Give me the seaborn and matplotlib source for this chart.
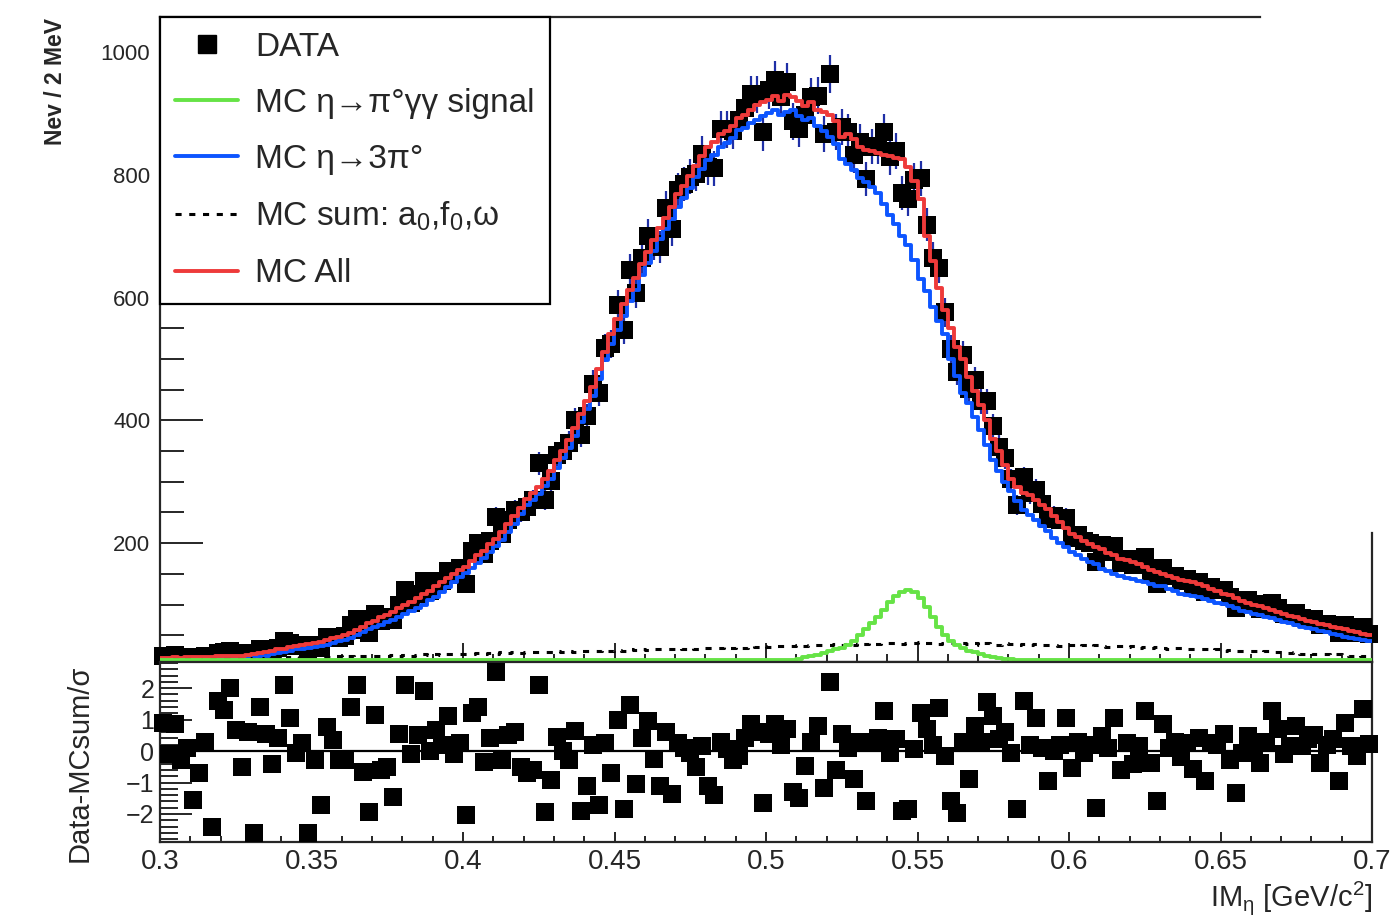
import numpy as np
import pandas as pd
import matplotlib
matplotlib.use("Agg")
import matplotlib.pyplot as plt
from matplotlib.lines import Line2D
from matplotlib.ticker import MultipleLocator, FuncFormatter
import seaborn as sns

# 200 bins of 2 MeV between 0.3 and 0.7 GeV/c^2
x_lo, x_hi, n_bins = 0.3, 0.7, 200
bin_w = (x_hi - x_lo) / n_bins
centers = x_lo + bin_w * (np.arange(n_bins) + 0.5)

# DATA counts per bin
data_counts = np.array([
    17, 14, 18, 13, 15, 11, 13, 16, 10, 21,
    22, 24, 20, 14, 21, 11, 27, 26, 22, 29,
    40, 37, 33, 35, 21, 35, 29, 47, 47, 46,
    49, 66, 76, 58, 54, 84, 74, 79, 75, 99,
    123, 103, 117, 138, 122, 137, 139, 155, 149, 159,
    133, 188, 200, 183, 204, 243, 215, 238, 254, 251,
    259, 270, 330, 270, 301, 344, 350, 363, 400, 376,
    407, 460, 444, 518, 524, 588, 548, 645, 608, 664,
    701, 687, 683, 746, 711, 775, 785, 797, 802, 834,
    812, 811, 875, 874, 871, 889, 909, 931, 931, 869,
    938, 954, 926, 951, 887, 875, 898, 927, 929, 867,
    964, 870, 878, 869, 832, 854, 793, 846, 847, 870,
    829, 839, 771, 760, 791, 794, 719, 665, 649, 576,
    516, 479, 507, 451, 465, 431, 431, 391, 357, 339,
    304, 262, 307, 281, 287, 264, 240, 245, 238, 241,
    208, 214, 203, 201, 169, 197, 185, 195, 167, 175,
    165, 168, 177, 152, 134, 160, 147, 147, 138, 141,
    131, 137, 120, 129, 124, 124, 112, 95, 105, 108,
    101, 93, 97, 103, 95, 84, 84, 87, 78, 77,
    76, 66, 69, 67, 54, 67, 58, 54, 63, 52,
])

# MC eta -> 3pi0
mc_3pi0 = np.array([
    10, 10, 11, 10, 11, 12, 11, 12, 12, 13,
    12, 13, 13, 14, 13, 15, 16, 17, 19, 21,
    23, 25, 27, 28, 30, 31, 33, 35, 37, 40,
    43, 46, 50, 55, 60, 64, 67, 71, 75, 80,
    85, 89, 95, 100, 107, 113, 121, 129, 137, 145,
    151, 160, 168, 176, 186, 195, 206, 218, 232, 247,
    262, 270, 280, 293, 305, 322, 338, 355, 375, 398,
    418, 440, 468, 498, 525, 548, 570, 594, 612, 636,
    657, 676, 695, 712, 728, 748, 762, 778, 796, 810,
    824, 833, 845, 852, 860, 873, 876, 885, 890, 896,
    900, 905, 898, 903, 906, 896, 890, 892, 880, 872,
    862, 850, 826, 818, 808, 795, 788, 780, 770, 752,
    735, 720, 700, 685, 662, 630, 610, 585, 562, 540,
    500, 472, 445, 428, 405, 385, 360, 335, 318, 300,
    285, 268, 254, 246, 238, 228, 220, 208, 200, 193,
    186, 180, 175, 170, 166, 158, 155, 150, 146, 143,
    141, 139, 137, 134, 131, 130, 126, 122, 118, 116,
    114, 112, 109, 106, 103, 101, 97, 94, 90, 88,
    85, 83, 80, 78, 75, 72, 70, 67, 64, 62,
    60, 57, 55, 52, 50, 48, 46, 44, 42, 40,
])

# MC All
mc_all = np.array([
    13, 13, 14, 13, 14, 14, 15, 14, 15, 16,
    16, 16, 17, 16, 18, 19, 21, 23, 24, 27,
    28, 31, 33, 34, 36, 37, 39, 42, 45, 48,
    51, 54, 58, 64, 70, 74, 79, 83, 88, 94,
    100, 104, 111, 117, 122, 130, 137, 143, 150, 156,
    162, 171, 180, 188, 198, 207, 219, 231, 245, 258,
    272, 281, 292, 305, 318, 336, 350, 368, 388, 410,
    432, 455, 483, 512, 540, 565, 590, 612, 632, 655,
    675, 694, 713, 730, 748, 768, 782, 798, 815, 830,
    845, 853, 866, 872, 880, 893, 897, 905, 913, 918,
    922, 928, 920, 930, 926, 920, 912, 918, 905, 902,
    898, 888, 862, 866, 858, 845, 840, 838, 835, 833,
    830, 828, 826, 812, 790, 760, 700, 660, 615, 580,
    550, 520, 500, 470, 448, 425, 400, 370, 350, 328,
    305, 292, 282, 278, 270, 262, 255, 245, 235, 224,
    215, 210, 204, 198, 194, 190, 184, 180, 175, 172,
    170, 166, 162, 156, 153, 150, 146, 143, 140, 138,
    137, 133, 130, 126, 122, 118, 115, 110, 106, 103,
    100, 97, 94, 91, 88, 85, 82, 79, 76, 74,
    72, 69, 67, 64, 62, 60, 57, 55, 52, 50,
])

# MC eta -> pi0 gamma gamma signal
mc_signal = np.array([
    0, 0, 0, 0, 0, 0, 0, 0, 0, 0,
    0, 0, 0, 0, 0, 0, 0, 0, 0, 0,
    0, 0, 0, 0, 0, 0, 0, 0, 0, 0,
    0, 0, 0, 0, 0, 0, 0, 0, 0, 0,
    0, 0, 0, 0, 0, 0, 0, 0, 0, 0,
    0, 0, 0, 0, 0, 0, 0, 0, 0, 0,
    0, 0, 0, 0, 0, 0, 0, 0, 0, 0,
    0, 0, 0, 0, 0, 0, 0, 0, 0, 0,
    0, 0, 0, 0, 0, 0, 0, 0, 1, 1,
    1, 1, 1, 1, 1, 1, 2, 2, 3, 4,
    5, 6, 7, 9, 10, 12, 14, 16, 18, 21,
    24, 27, 30, 35, 41, 50, 60, 70, 80, 91,
    104, 114, 120, 123, 120, 110, 96, 80, 64, 50,
    40, 34, 29, 25, 22, 19, 17, 15, 13, 12,
    11, 10, 9, 8, 7, 6, 5, 4, 3, 3,
    2, 2, 1, 1, 1, 0, 0, 0, 0, 0,
    0, 0, 0, 0, 0, 0, 0, 0, 0, 0,
    0, 0, 0, 0, 0, 0, 0, 0, 0, 0,
    0, 0, 0, 0, 0, 0, 0, 0, 0, 0,
    0, 0, 0, 0, 0, 0, 0, 0, 0, 0,
])

# MC sum of a0, f0, omega backgrounds
mc_bkg = np.array([
    10, 10, 11, 10, 11, 11, 10, 12, 11, 12,
    11, 12, 12, 11, 13, 12, 13, 12, 13, 14,
    13, 14, 13, 14, 15, 14, 15, 14, 15, 16,
    15, 16, 15, 16, 17, 16, 17, 16, 18, 17,
    18, 17, 18, 19, 18, 19, 18, 20, 19, 20,
    19, 20, 21, 20, 21, 20, 22, 21, 22, 21,
    22, 23, 22, 23, 22, 24, 23, 24, 23, 25,
    24, 25, 24, 26, 25, 26, 25, 27, 26, 27,
    26, 28, 27, 28, 27, 29, 28, 29, 28, 30,
    29, 30, 29, 31, 30, 31, 30, 32, 31, 32,
    31, 33, 32, 33, 32, 34, 33, 35, 34, 35,
    34, 36, 35, 36, 35, 37, 36, 37, 36, 38,
    37, 38, 36, 38, 37, 39, 37, 38, 36, 38,
    37, 36, 38, 36, 37, 35, 37, 36, 35, 37,
    36, 35, 36, 34, 36, 35, 34, 35, 33, 35,
    34, 33, 34, 32, 34, 33, 31, 33, 32, 31,
    32, 30, 31, 29, 31, 30, 28, 30, 29, 27,
    28, 27, 28, 26, 27, 25, 26, 25, 24, 25,
    24, 23, 24, 22, 23, 22, 21, 22, 20, 21,
    20, 19, 20, 18, 19, 18, 17, 18, 17, 16,
])

# (Data - MCsum) / sigma
residual = np.array([
    0.9, -0.1, 0.85, -0.3, 0.1, -1.56, -0.7, 0.3, -2.4, 1.6,
    1.3, 2.0, 0.67, -0.5, 0.6, -2.6, 1.4, 0.55, -0.4, 0.4,
    2.1, 1.05, -0.07, 0.25, -2.6, -0.3, -1.7, 0.76, 0.35, -0.3,
    -0.3, 1.4, 2.1, -0.66, -1.93, 1.14, -0.6, -0.5, -1.46, 0.53,
    2.1, -0.1, 0.5, 1.9, 0.0, 0.67, 0.2, 1.1, -0.1, 0.25,
    -2.03, 1.2, 1.4, -0.35, 0.4, 2.5, -0.3, 0.5, 0.6, -0.5,
    -0.7, -0.6, 2.1, -1.95, -0.92, 0.45, 0.0, -0.3, 0.65, -1.9,
    -1.1, 0.2, -1.7, 0.26, -0.7, 1.0, -1.85, 1.45, -1.06, 0.4,
    0.95, -0.26, -1.1, 0.6, -1.37, 0.26, 0.1, -0.05, -0.5, 0.15,
    -1.1, -1.4, 0.3, 0.05, -0.3, -0.15, 0.4, 0.85, 0.6, -1.64,
    0.53, 0.85, 0.2, 0.7, -1.3, -1.5, -0.48, 0.3, 0.8, -1.17,
    2.2, -0.6, 0.53, 0.1, -0.9, 0.3, -1.6, 0.26, 0.4, 1.27,
    -0.05, 0.37, -1.9, -1.85, 0.05, 1.22, 0.7, 0.2, 1.38, -0.16,
    -1.6, -1.96, 0.3, -0.9, 0.8, 0.3, 1.55, 1.1, 0.37, 0.6,
    -0.05, -1.85, 1.6, 0.2, 1.06, 0.1, -0.95, 0.0, 0.2, 1.06,
    -0.53, 0.3, -0.05, 0.2, -1.8, 0.48, 0.1, 1.06, -0.6, 0.25,
    -0.4, 0.16, 1.27, -0.37, -1.6, 0.85, 0.1, 0.3, -0.2, 0.26,
    -0.58, 0.4, -0.95, 0.26, 0.2, 0.53, -0.3, -1.33, -0.05, 0.48,
    0.1, -0.37, 0.3, 1.27, 0.69, -0.1, 0.16, 0.8, 0.16, 0.37,
    0.5, -0.37, 0.2, 0.37, -0.95, 0.9, 0.16, -0.16, 1.33, 0.21,
])

GREEN = "#66e346"
BLUE = "#0d55ff"
RED = "#ee3a3a"
ERR = "#1f2fa6"

y_lo, y_hi = 6.5, 1057

hists = pd.DataFrame({
    "m": centers,
    "mc_3pi0": mc_3pi0,
    "mc_all": mc_all,
    "mc_bkg": mc_bkg,
    # values under the frame minimum sit on the frame bottom, as in ROOT
    "mc_signal": np.maximum(mc_signal, 9),
})

sns.set_style("ticks")
plt.rcParams["font.family"] = ["Liberation Sans", "DejaVu Sans"]
plt.rcParams["mathtext.fontset"] = "custom"
plt.rcParams["mathtext.rm"] = "Liberation Sans"
plt.rcParams["mathtext.it"] = "Liberation Sans:italic"
plt.rcParams["mathtext.default"] = "regular"

W, H = 1398, 919
fig = plt.figure(figsize=(W / 100, H / 100), dpi=100)
ax = fig.add_axes([160 / W, 1 - 662 / H, 1212 / W, 645 / H])
axr = fig.add_axes([160 / W, 1 - 842 / H, 1212 / W, 180 / H], sharex=ax)

# upper panel: data with errors, then MC histograms on top
ax.errorbar(centers, data_counts, yerr=np.sqrt(data_counts), fmt="none",
            ecolor=ERR, elinewidth=1.6, zorder=2.5)
sns.scatterplot(x=centers, y=data_counts, marker="s", s=13.5 ** 2, color="black",
                linewidth=0, ax=ax, zorder=3, clip_on=False)

hist_kw = dict(data=hists, x="m", binwidth=bin_w, binrange=(x_lo, x_hi),
               element="step", fill=False, ax=ax)
sns.histplot(weights="mc_3pi0", color=BLUE, linewidth=2.8, zorder=3.5, **hist_kw)
sns.histplot(weights="mc_all", color=RED, linewidth=2.8, zorder=3.8, **hist_kw)
sns.histplot(weights="mc_bkg", color="black", linewidth=2.2,
             linestyle=(0, (2, 2.5)), zorder=4, **hist_kw)
sns.histplot(weights="mc_signal", color=GREEN, linewidth=2.8, zorder=4.2, **hist_kw)

ax.set_xlim(x_lo, x_hi)
ax.set_ylim(y_lo, y_hi)
ax.set_xlabel("")
ax.set_ylabel("")
ax.yaxis.set_major_locator(MultipleLocator(200))
ax.yaxis.set_minor_locator(MultipleLocator(50))
ax.xaxis.set_major_locator(MultipleLocator(0.05))
ax.xaxis.set_minor_locator(MultipleLocator(0.01))
ax.tick_params(axis="y", which="major", direction="in", length=31, width=1.4,
               labelsize=16, pad=7)
ax.tick_params(axis="y", which="minor", direction="in", length=17, width=1.4)
ax.tick_params(axis="x", which="major", direction="in", length=14, width=1.4,
               labelbottom=False)
ax.tick_params(axis="x", which="minor", direction="in", length=6, width=1.4)
for sp in ax.spines.values():
    sp.set_linewidth(1.6)
ax.spines["top"].set_bounds(x_lo, 0.663)
ax.spines["right"].set_bounds(y_lo, 217)

handles = [
    Line2D([], [], marker="s", color="black", linestyle="none", markersize=13),
    Line2D([], [], color=GREEN, linewidth=2.8),
    Line2D([], [], color=BLUE, linewidth=2.8),
    Line2D([], [], color="black", linewidth=2.2, linestyle=(0, (2, 2.5))),
    Line2D([], [], color=RED, linewidth=2.8),
]
labels = ["DATA", "MC η→π°γγ signal", "MC η→3π°", "MC sum: a$_0$,f$_0$,ω", "MC All"]
leg = ax.legend(handles, labels, loc="upper left", bbox_to_anchor=(0, 1),
                borderaxespad=0, frameon=True, fancybox=False, framealpha=1,
                edgecolor="black", fontsize=24, handlelength=1.9,
                handletextpad=0.5, labelspacing=0.75, borderpad=0.45)
leg.get_frame().set_linewidth(1.6)
leg.set_zorder(10)

# lower panel: residuals
axr.axhline(0, color="black", linewidth=1.6, zorder=2)
sns.scatterplot(x=centers, y=residual, marker="s", s=13.5 ** 2, color="black",
                linewidth=0, ax=axr, zorder=3, clip_on=False)
axr.set_ylim(-2.89, 2.83)
axr.set_xlim(x_lo, x_hi)
axr.set_xlabel("")
axr.set_ylabel("")
axr.yaxis.set_major_locator(MultipleLocator(1))
axr.yaxis.set_minor_locator(MultipleLocator(0.2))
axr.xaxis.set_major_formatter(FuncFormatter(lambda v, p: f"{v:g}"))
axr.tick_params(axis="y", which="major", direction="in", length=23, width=1.4,
                labelsize=18, pad=4)
axr.tick_params(axis="y", which="minor", direction="in", length=13, width=1.4)
axr.tick_params(axis="x", which="major", direction="in", length=7, width=1.4,
                labelsize=20, pad=5)
axr.tick_params(axis="x", which="minor", direction="in", length=4, width=1.4)
for sp in axr.spines.values():
    sp.set_linewidth(1.6)

fig.text(55 / W, 1 - 18 / H, "Nev / 2 MeV", rotation=90, ha="center", va="top",
         fontsize=16.5, fontweight="bold")
fig.text(80 / W, 1 - 763 / H, "Data-MCsum/σ", rotation=90, ha="center",
         va="center", fontsize=21)
fig.text(1372 / W, 1 - 898 / H, "IM$_η$ [GeV/c$^2$]", ha="right", va="center",
         fontsize=21)

fig.savefig("out.png", dpi=100)
